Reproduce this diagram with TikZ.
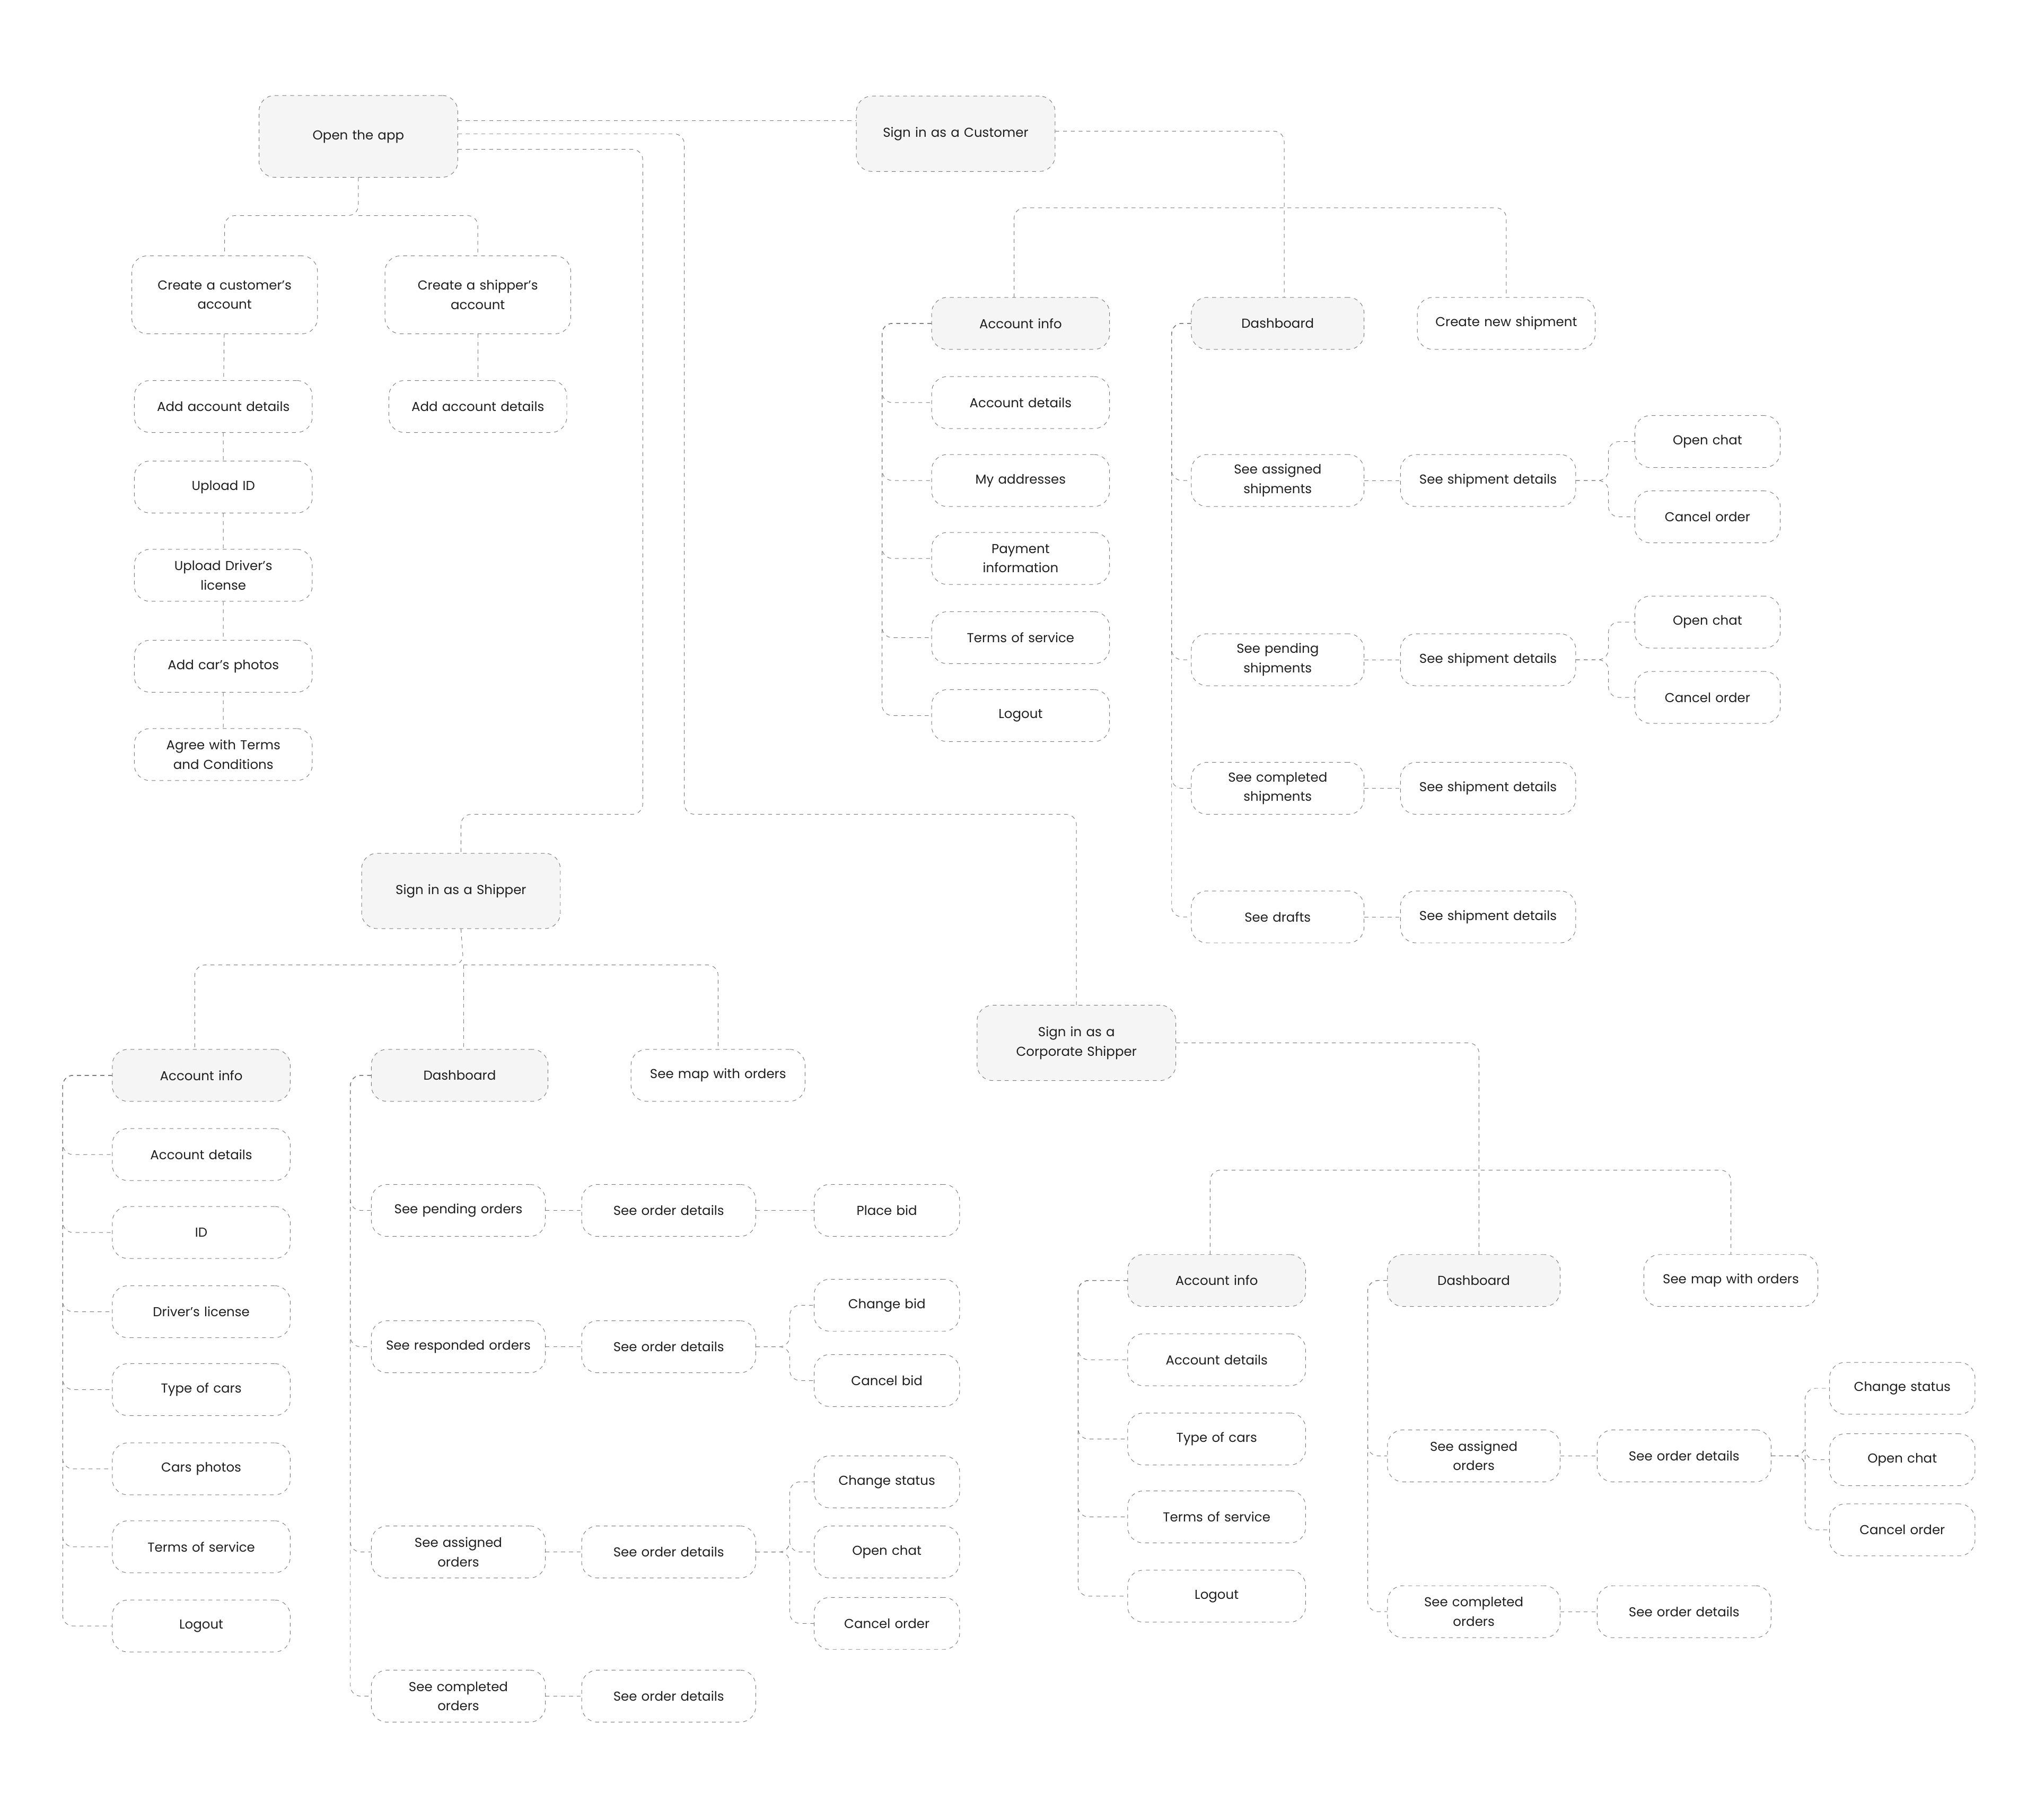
\documentclass[tikz,border=0pt]{standalone}
\usepackage{fontspec}
\setmainfont{Poppins}
\usetikzlibrary{positioning}
\definecolor{edge}{HTML}{7A7A7A}
\definecolor{paper}{HTML}{F5F5F5}
\tikzset{
  step/.style={draw=edge, dashed, rounded corners=12pt, align=center, font=\fontsize{10}{15}\selectfont,
    text=black!88, inner sep=0pt, minimum height=40pt, minimum width=#1, text width=#1-10pt},
  step/.default=137pt,
  main/.style={step=153pt, fill=paper, minimum height=58pt},
  head/.style={step=#1, fill=paper},
  head/.default=137pt,
  link/.style={draw=edge, dashed, rounded corners=8pt},
}
\begin{document}
\hyphenpenalty=10000
\begin{tikzpicture}[x=1pt,y=-1pt]
\useasboundingbox (0,0) rectangle (1568,1401);
% top level
\node[main, minimum height=63pt] (open) at (276,105) {Open the app};
\node[main] (cust) at (736,103) {Sign in as a Customer};
\node[main] (ship) at (355,686) {Sign in as a Shipper};
\node[main] (corp) at (829,803) {Sign in as a\\Corporate Shipper};
% registration
\node[step=143pt, minimum height=60pt] (newC) at (173,227) {Create a customer’s\\account};
\node[step=143pt, minimum height=60pt] (newS) at (368,227) {Create a shipper’s\\account};
\node[step] (rC1) at (172,313) {Add account details};
\node[step] (rC2) at (172,375) {Upload ID};
\node[step] (rC3) at (172,443) {Upload Driver's\\license};
\node[step] (rC4) at (172,513) {Add car's photos};
\node[step] (rC5) at (172,581) {Agree with Terms\\and Conditions};
\node[step] (rS1) at (368,313) {Add account details};
\draw[link] (open.south) -- (276,166) -| (newC.north);
\draw[link] (276,166) -| (newS.north);
\draw[link] (newC) -- (rC1) -- (rC2) -- (rC3) -- (rC4) -- (rC5);
\draw[link] (newS) -- (rS1);
\draw[link] (open.east |- 0,93) -- (cust.west |- 0,93);
\draw[link] (open.east |- 0,103) -| (527,627) -| (corp.north);
\draw[link] (open.east |- 0,115) -| (495,627) -| (ship.north);
% customer
\node[head] (cAcc) at (786,249) {Account info};
\node[head=133pt] (cDash) at (984,249) {Dashboard};
\node[step] (cNew) at (1160,249) {Create new shipment};
\draw[link] (cust.east |- 0,101) -| (989,229);
\draw[link] (781,229) |- (989,160) -| (cNew.north);
\foreach \n/\t [count=\i] in {310/Account details,370/My addresses,430/Payment\\information,491/Terms of service,551/Logout} {
  \node[step] (cA\i) at (786,\n) {\t};
  \draw[link] (cAcc.west) -| ([xshift=-38pt]cA\i.west) -- (cA\i.west);
}
\node[step=133pt] (cD1) at (984,370) {See assigned\\shipments};
\node[step=133pt] (cD2) at (984,508) {See pending\\shipments};
\node[step=133pt] (cD3) at (984,607) {See completed\\shipments};
\node[step=133pt] (cD4) at (984,706) {See drafts};
\foreach \n in {cD1,cD2,cD3,cD4}
  \draw[link] (cDash.west) -| ([xshift=-15pt]\n.west) -- (\n.west);
\foreach \n/\y in {1/370,2/508,3/607,4/706}
  \node[step=135pt] (cS\n) at (1146,\y) {See shipment details};
\foreach \n in {1,2,3,4}
  \draw[link] (cD\n) -- (cS\n);
\node[step=112pt] (cO1) at (1315,340) {Open chat};
\node[step=112pt] (cX1) at (1315,398) {Cancel order};
\node[step=112pt] (cO2) at (1315,479) {Open chat};
\node[step=112pt] (cX2) at (1315,537) {Cancel order};
\foreach \n in {1,2} {
  \draw[link] (cS\n.east) -- ++(25,0) |- (cO\n.west);
  \draw[link] (cS\n.east) -- ++(25,0) |- (cX\n.west);
}
% shipper
\node[head] (sAcc) at (155,828) {Account info};
\node[head=136pt] (sDash) at (354,828) {Dashboard};
\node[step=134pt] (sMap) at (553,828) {See map with orders};
\draw[link] (ship.south) -- (357,743) -| (150,808);
\draw[link] (357,743) -| (sMap.north);
\draw[link] (357,743) -- (357,808);
\foreach \n/\t [count=\i] in {889/Account details,949/ID,1010/Driver's license,1070/Type of cars,1131/Cars photos,1191/Terms of service,1252/Logout} {
  \node[step] (sA\i) at (155,\n) {\t};
  \draw[link] (sAcc.west) -| ([xshift=-38pt]sA\i.west) -- (sA\i.west);
}
\node[step=134pt] (sD1) at (353,932) {See pending orders};
\node[step=134pt] (sD2) at (353,1037) {See responded orders};
\node[step=134pt] (sD3) at (353,1195) {See assigned\\orders};
\node[step=134pt] (sD4) at (353,1306) {See completed\\orders};
\foreach \n/\y in {1/932,2/1037,3/1195,4/1306} {
  \draw[link] (sDash.west) -| ([xshift=-16pt]sD\n.west) -- (sD\n.west);
  \node[step=134pt] (sO\n) at (515,\y) {See order details};
  \draw[link] (sD\n) -- (sO\n);
}
\node[step=112pt] (sB1) at (683,932) {Place bid};
\node[step=112pt] (sB2) at (683,1005) {Change bid};
\node[step=112pt] (sB3) at (683,1063) {Cancel bid};
\node[step=112pt] (sB4) at (683,1141) {Change status};
\node[step=112pt] (sB5) at (683,1195) {Open chat};
\node[step=112pt] (sB6) at (683,1250) {Cancel order};
\draw[link] (sO1) -- (sB1);
\foreach \n in {sB2,sB3} \draw[link] (sO2.east) -- ++(26,0) |- (\n.west);
\foreach \n in {sB4,sB5,sB6} \draw[link] (sO3.east) -- ++(26,0) |- (\n.west);
% corporate shipper
\node[head] (kAcc) at (937,986) {Account info};
\node[head=133pt] (kDash) at (1135,986) {Dashboard};
\node[step=134pt] (kMap) at (1333,986) {See map with orders};
\draw[link] (corp.east) -| (1139,966);
\draw[link] (932,966) |- (1139,901) -| (kMap.north);
\foreach \n/\t [count=\i] in {1047/Account details,1108/Type of cars,1168/Terms of service,1229/Logout} {
  \node[step] (kA\i) at (937,\n) {\t};
  \draw[link] (kAcc.west) -| ([xshift=-38pt]kA\i.west) -- (kA\i.west);
}
\node[step=133pt] (kD1) at (1135,1121) {See assigned\\orders};
\node[step=133pt] (kD2) at (1135,1241) {See completed\\orders};
\foreach \n/\y in {1/1121,2/1241} {
  \draw[link] (kDash.west) -| ([xshift=-15pt]kD\n.west) -- (kD\n.west);
  \node[step=134pt] (kO\n) at (1297,\y) {See order details};
  \draw[link] (kD\n) -- (kO\n);
}
\node[step=112pt] (kB1) at (1465,1069) {Change status};
\node[step=112pt] (kB2) at (1465,1124) {Open chat};
\node[step=112pt] (kB3) at (1465,1178) {Cancel order};
\foreach \n in {kB1,kB2,kB3} \draw[link] (kO1.east) -- ++(26,0) |- (\n.west);
\end{tikzpicture}
\end{document}
